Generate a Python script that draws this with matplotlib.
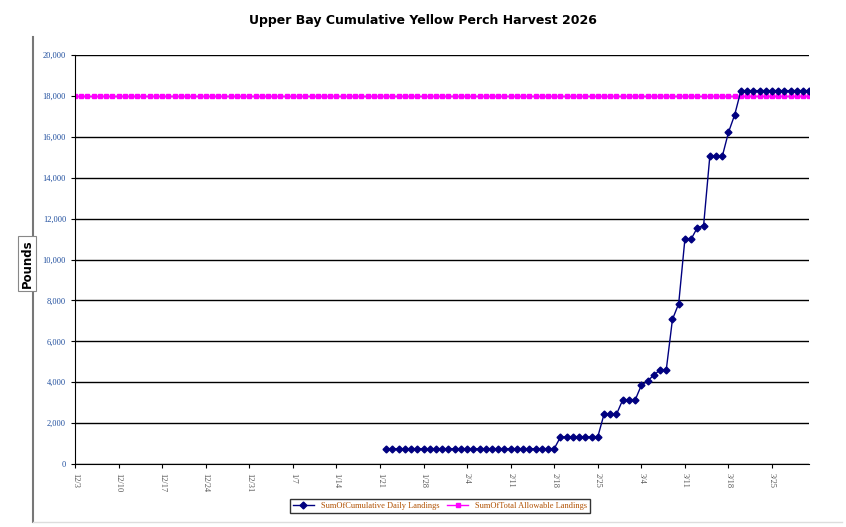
import matplotlib
matplotlib.use("Agg")
import matplotlib.pyplot as plt
import datetime as dt

start = dt.date(2025, 12, 3)
end = dt.date(2026, 3, 31)
tal_dates = [start + dt.timedelta(days=i) for i in range((end - start).days + 1)]
tal_values = [18000] * len(tal_dates)

cum_start = dt.date(2026, 1, 22)
cum_values = ([750] * 28 +
              [1320, 1330, 1330, 1330, 1330, 1330, 1330] +
              [2430, 2430, 2430] +
              [3130, 3130, 3130] +
              [3850, 4060, 4350, 4600, 4600, 7075, 7840, 11000, 11000, 11560, 11650,
               15040, 15040, 15040, 16220, 17080] +
              [18260] * 12)
cum_dates = [cum_start + dt.timedelta(days=i) for i in range(len(cum_values))]

tick_dates = [start + dt.timedelta(days=7 * i) for i in range(17)]
tick_labels = [f"{d.month}/{d.day}" for d in tick_dates]

fig = plt.figure(figsize=(8.46, 5.27), dpi=100)
ax = fig.add_axes([0.0887, 0.1195, 0.868, 0.776])
ax.plot(tal_dates, tal_values, color="#FF00FF", marker="s", markersize=3.5, lw=1,
        label="SumOfTotal Allowable Landings", zorder=2)
ax.plot(cum_dates, cum_values, color="#000080", marker="D", markersize=3.5, lw=1,
        label="SumOfCumulative Daily Landings", zorder=3)
ax.set_xlim(start, end)
ax.set_ylim(0, 20000)
ax.set_yticks(range(0, 20001, 2000))
ax.set_yticklabels([f"{v:,}" for v in range(0, 20001, 2000)], fontsize=6,
                   color="#1F4E9E", family="Liberation Serif")
ax.set_xticks(tick_dates)
ax.set_xticklabels(tick_labels, rotation=270, fontsize=6, color="#555555",
                   family="Liberation Serif")
ax.yaxis.grid(True, color="black", lw=1)
ax.set_axisbelow(True)
for s in ["top", "right"]:
    ax.spines[s].set_visible(False)
ax.tick_params(length=3)

fig.text(0.5, 0.962, "Upper Bay Cumulative Yellow Perch Harvest 2026",
         ha="center", va="center", fontsize=9, fontweight="bold")
fig.text(0.032, 0.5, "Pounds", rotation=90, ha="center", va="center", fontsize=8.5,
         fontweight="bold", bbox=dict(facecolor="white", edgecolor="#888888", lw=0.8, pad=2))
h, l = ax.get_legend_handles_labels()
leg = fig.legend(h[::-1], l[::-1], loc="center", bbox_to_anchor=(0.52, 0.04), ncol=2,
                 frameon=True, fancybox=False, edgecolor="black",
                 handlelength=2.5, columnspacing=1, prop={"family": "Liberation Serif", "size": 6})
for t in leg.get_texts():
    t.set_color("#B05000")
fig.add_artist(plt.Line2D([0.039, 0.039], [0.01, 0.93], color="#777777", lw=1.5))
fig.add_artist(plt.Line2D([0.039, 0.995], [0.01, 0.01], color="#dddddd", lw=1))
fig.savefig("out.png", dpi=100)
